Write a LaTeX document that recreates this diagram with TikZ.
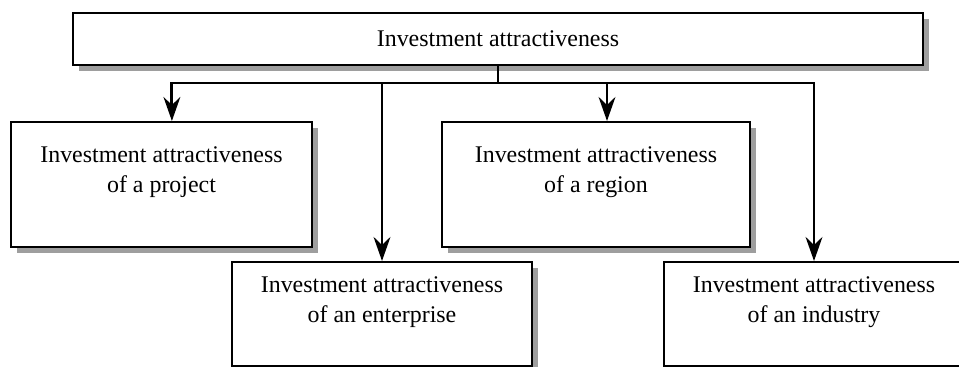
\documentclass[tikz,border=0pt]{standalone}
\usepackage{fontspec}
\setmainfont{Liberation Serif}
\usetikzlibrary{arrows.meta, shadows, positioning}
\tikzset{attrbox/.style={rectangle, draw, line width=1.4pt, fill=white,
minimum width=7.5cm, minimum height=3.125cm,
drop shadow={shadow xshift=0.15cm, shadow yshift=-0.15cm, opacity=1, fill=black!38}}}
\tikzset{attrtext/.style={align=center, inner sep=0pt, font=\fontsize{17}{21.3}\selectfont}}
\tikzset{feed/.style={line width=2pt, -{Stealth[length=0.6cm, width=0.42cm, inset=0.2cm]}}}
\tikzset{busline/.style={line width=2pt}}

\begin{document}
\begin{tikzpicture}[x=0.025cm, y=-0.025cm]
\clip (0,0) rectangle (959,367);

\node [attrbox, minimum width=21.25cm, minimum height=1.3cm] (top) at (498, 39) {};
\node [attrtext] (topt) at (top) {Investment attractiveness};

\node [attrbox, minimum width=7.525cm] (project) at (161.5, 184.5) {};
\node [attrbox, minimum width=7.7cm] (region) at (596, 184.5) {};
\node [attrbox, minimum height=2.6cm] (enterprise) at (382, 314) {};
\node [attrbox, minimum height=2.6cm] (industry) at (814, 314) {};

\node [attrtext, anchor=north, below=0.625cm of project.north] (projectt)
{Investment attractiveness\\of a project};
\node [attrtext, anchor=north, below=0.625cm of region.north] (regiont)
{Investment attractiveness\\of a region};
\node [attrtext, anchor=north, below=0.375cm of enterprise.north] (enterpriset)
{Investment attractiveness\\of an enterprise};
\node [attrtext, anchor=north, below=0.375cm of industry.north] (industryt)
{Investment attractiveness\\of an industry};

\coordinate (bus) at (494, 83);

\draw [busline] (top.south) -- (top.south |- bus);
\draw [feed] (top.south |- bus) -| ([xshift=0.26cm]project.north);
\draw [feed] (top.south |- bus) -| (industry.north);
\draw [feed] (enterprise.north |- bus) -- (enterprise.north);
\draw [feed] ([xshift=0.275cm]region.north |- bus) -- ([xshift=0.275cm]region.north);

\end{tikzpicture}
\end{document}
